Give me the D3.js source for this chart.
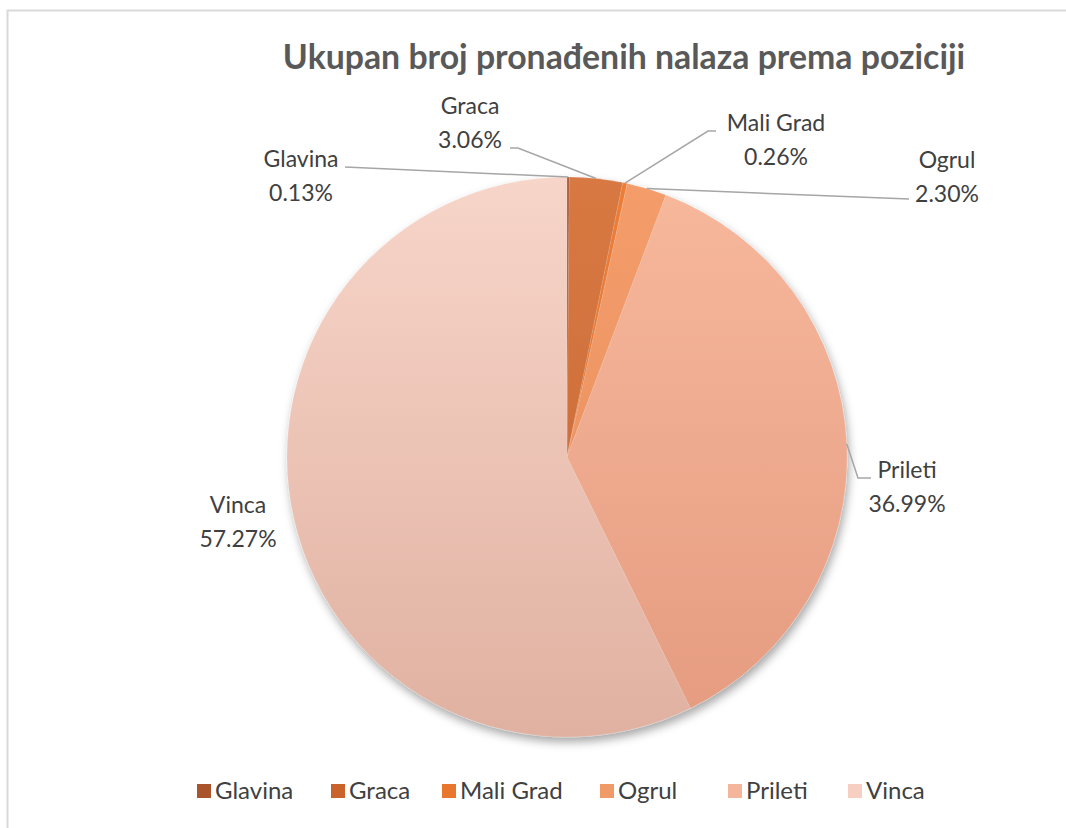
<!DOCTYPE html>
<html>
<head>
<meta charset="utf-8">
<script src="https://cdn.jsdelivr.net/npm/d3@7"></script>
<style>
  html, body { margin: 0; padding: 0; background: #fff; }
  svg { display: block; font-family: Lato, "Open Sans", sans-serif; }
</style>
</head>
<body>
<svg id="chart" width="1066" height="828"></svg>
<script>
// ---- data ----
const categories = ["Glavina", "Graca", "Mali Grad", "Ogrul", "Prileti", "Vinca"];
const percentages = [0.13, 3.06, 0.26, 2.30, 36.99, 57.27];
const percentLabels = ["0.13%", "3.06%", "0.26%", "2.30%", "36.99%", "57.27%"];
const titleText = "Ukupan broj pronađenih nalaza prema poziciji";

// ---- styles / layout ----
const sliceTop = ["#ad5830", "#d87842", "#ec7e38", "#f49d6a", "#f7b89c", "#f7d5c9"];
const sliceBottom = ["#9c4c26", "#c66836", "#de7030", "#e68c5c", "#e59b80", "#e0b1a1"];
const legendColors = ["#a9542b", "#c9622b", "#e8762d", "#f09a68", "#f4b59b", "#f6cfc2"];
// label layout: center x, first baseline, leader start points
const labelLayout = [
  { x: 301, y: 167, leader: [[345, 167]] },
  { x: 470, y: 114, leader: [[510, 148], [518, 148]] },
  { x: 776, y: 131, leader: [[716, 131], [708, 131]] },
  { x: 947, y: 168, leader: [[909, 199]] },
  { x: 907, y: 478, leader: [[871, 478], [858, 478]] },
  { x: 238, y: 513, leader: null }
];
const legendX = [197, 331, 442, 600, 728, 848];

const cx = 567, cy = 457, R = 280;

const svg = d3.select("#chart");
const defs = svg.append("defs");

// border
svg.append("path")
  .attr("d", "M7.5,828 L7.5,10.5 L1066,10.5")
  .attr("fill", "none").attr("stroke", "#d9d9d9").attr("stroke-width", 2);

// title
svg.append("text")
  .attr("x", 624).attr("y", 69)
  .attr("text-anchor", "middle")
  .attr("font-size", 33.8).attr("font-weight", "bold")
  .attr("fill", "#595959")
  .text(titleText);

// shadow filter
const f = defs.append("filter").attr("id", "shadow")
  .attr("x", "-10%").attr("y", "-10%").attr("width", "120%").attr("height", "125%");
f.append("feDropShadow").attr("dx", 2).attr("dy", 5).attr("stdDeviation", 5)
  .attr("flood-color", "#000").attr("flood-opacity", 0.35);

// gradients per slice
sliceTop.forEach((c, i) => {
  const g = defs.append("linearGradient").attr("id", "grad" + i)
    .attr("gradientUnits", "userSpaceOnUse")
    .attr("x1", 0).attr("y1", -R).attr("x2", 0).attr("y2", R);
  g.append("stop").attr("offset", "0%").attr("stop-color", c);
  g.append("stop").attr("offset", "100%").attr("stop-color", sliceBottom[i]);
});

const pie = d3.pie().sort(null).value(d => d)
  .startAngle(0).endAngle(2 * Math.PI);
const arcs = pie(percentages);
const arc = d3.arc().innerRadius(0).outerRadius(R);

const g = svg.append("g").attr("transform", `translate(${cx},${cy})`);
const slices = g.append("g").attr("filter", "url(#shadow)");
slices.selectAll("path")
  .data(arcs)
  .join("path")
  .attr("d", arc)
  .attr("fill", (d, i) => `url(#grad${i})`)
  .attr("stroke", "rgba(255,255,255,0.2)")
  .attr("stroke-width", 0.6);

// leader lines
arcs.forEach((a, i) => {
  const L = labelLayout[i];
  if (!L.leader) return;
  const mid = (a.startAngle + a.endAngle) / 2;
  const px = cx + R * Math.sin(mid), py = cy - R * Math.cos(mid);
  const pts = L.leader.concat([[px, py]]);
  svg.append("polyline")
    .attr("points", pts.map(p => p.join(",")).join(" "))
    .attr("fill", "none").attr("stroke", "#a6a6a6").attr("stroke-width", 1.5);
});

// labels
categories.forEach((c, i) => {
  const L = labelLayout[i];
  const t = svg.append("text")
    .attr("text-anchor", "middle")
    .attr("font-size", 23).attr("fill", "#404040");
  t.append("tspan").attr("x", L.x).attr("y", L.y).text(c);
  t.append("tspan").attr("x", L.x).attr("y", L.y + 34).text(percentLabels[i]);
});

// legend
const lg = svg.append("g");
categories.forEach((c, i) => {
  lg.append("rect").attr("x", legendX[i]).attr("y", 784).attr("width", 14).attr("height", 14)
    .attr("fill", legendColors[i]);
  lg.append("text").attr("x", legendX[i] + 18).attr("y", 799)
    .attr("font-size", 24).attr("fill", "#404040").text(c);
});
</script>
</body>
</html>
